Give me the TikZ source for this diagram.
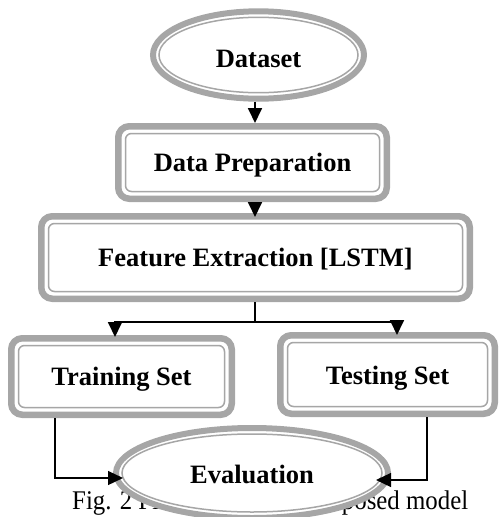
\documentclass[tikz,border=0pt]{standalone}
\usepackage{fontspec}
\setmainfont{Liberation Serif}
\usetikzlibrary{arrows.meta,shapes.geometric}
\definecolor{ringgray}{HTML}{A6A6A6}
\newcommand\innerbox[1]{\draw[innerline] ([shift={(10.5,10.5)}]#1.north west) rectangle ([shift={(-10.5,-10.5)}]#1.south east);}
\begin{document}
\begin{tikzpicture}[x=1pt,y=-1pt,
  ring/.style={draw=ringgray, line width=6.5pt, fill=white, rounded corners=11pt, inner sep=0pt,
    text height=18pt, text depth=0pt, font=\fontsize{26.5pt}{30pt}\selectfont\bfseries},
  ringell/.style={ring, ellipse, line width=6pt},
  innerline/.style={draw=ringgray, line width=1.5pt, rounded corners=6pt},
  arr/.style={draw=black, line width=1.8pt, -{Triangle[length=15pt,width=14pt]}},
  thinarr/.style={draw=black, line width=1.3pt, -{Triangle[length=15pt,width=14pt]}}]
\useasboundingbox (0,0) rectangle (499,517);
\clip (0,0) rectangle (499,517);
% coordinates for connector columns
\coordinate (ax) at (255,0);
\coordinate (tl) at (115,0);
\coordinate (tt) at (397,0);
\coordinate (bl) at (55,0);
\coordinate (br) at (427,0);
\coordinate (j) at (255,322);
% nodes
\node[ringell, minimum width=211pt, minimum height=87.4pt, text height=24.6pt] (ds) at (258.5,55) {Dataset};
\draw[innerline] (ds.center) ellipse [x radius=99.5pt, y radius=37.7pt];
\node[ring, minimum width=268.5pt, minimum height=72.5pt] (dp) at (252.5,162.5) {Data Preparation};
\innerbox{dp}
\node[ring, minimum width=428.5pt, minimum height=82.5pt] (fe) at (255.5,257.5) {Feature Extraction [LSTM]};
\innerbox{fe}
\node[ring, minimum width=220.5pt, minimum height=76.5pt] (tr) at (121.5,376.5) {Training Set};
\innerbox{tr}
\node[ring, minimum width=214.5pt, minimum height=78.5pt, text height=20pt] (te) at (387.5,374.5) {Testing Set};
\innerbox{te}
\node[anchor=base west, inner sep=0pt, font=\fontsize{27pt}{30pt}\selectfont] (cap) at (72,509)
  {\scalebox{0.92}[1]{Fig. 2 Flowchart of the proposed model}};
\node[ringell, minimum width=272pt, minimum height=90pt, text height=20pt] (ev) at (252,473) {Evaluation};
\draw[innerline] (ev.center) ellipse [x radius=130pt, y radius=39pt];
% connectors
\draw[arr] (ds.south -| ax) -- (dp.north -| ax);
\draw[arr] (dp.south -| ax) -- ([shift={(0,4)}]fe.north -| ax);
\draw[line width=1.8pt] (fe.south -| ax) -- ([shift={(0,1)}]j);
\draw[arr] (j) -| ([shift={(0,2)}]tr.north -| tl);
\draw[arr] (j) -| ([shift={(0,3)}]te.north -| tt);
\draw[thinarr] (tr.south -| bl) |- ([shift={(10,5)}]ev.west);
\draw[thinarr] (te.south -| br) |- ([shift={(-15,7)}]ev.east);
\end{tikzpicture}
\end{document}
